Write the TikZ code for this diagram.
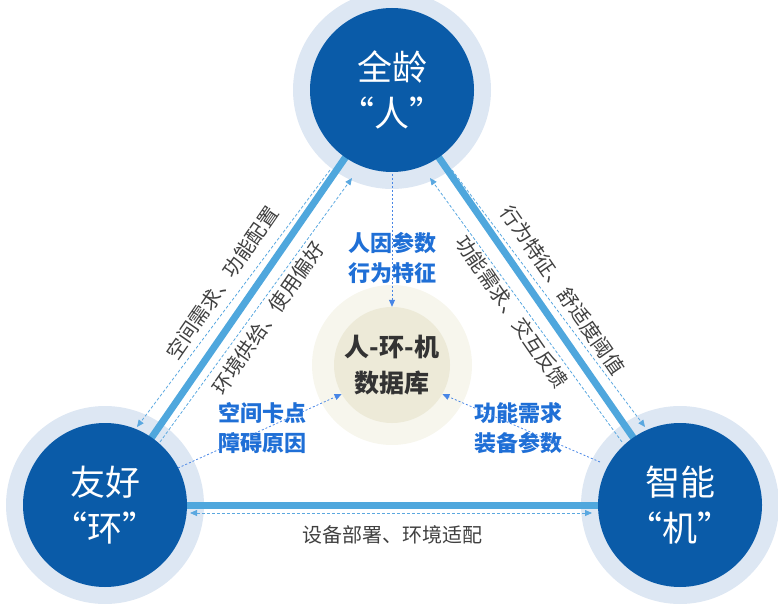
\documentclass[tikz,border=0pt]{standalone}
\usepackage{fontspec}
\setmainfont{Noto Sans CJK SC}
\usetikzlibrary{arrows.meta}
\definecolor{dblue}{HTML}{0A5BA8}
\definecolor{halo}{HTML}{DDE7F3}
\definecolor{lblue}{HTML}{4FA7DD}
\definecolor{dashc}{HTML}{5AA8E0}
\definecolor{tblue}{HTML}{1F6FD6}
\definecolor{chalo}{HTML}{F7F6ED}
\definecolor{cin}{HTML}{EDEAD8}
\tikzset{
 thick line/.style={lblue,line width=7pt},
 dline/.style={dashc,line width=0.8pt,dash pattern=on 3pt off 2pt},
 bigc/.style={circle,fill=dblue,minimum size=164pt,inner sep=0pt,text=white,font=\fontsize{35}{46}\selectfont,align=center},
 lab/.style={font=\fontsize{20}{24}\selectfont,text=black!75},
 blab/.style={font=\bfseries\fontsize{22}{30}\selectfont,text=tblue,align=center},
 blink/.style={dashc!80!blue,line width=0.8pt,dash pattern=on 2pt off 2pt,-{Triangle[length=7pt,width=6pt]}},
 tip/.style={-{Triangle[length=7pt,width=6pt]}}
}
\begin{document}
\begin{tikzpicture}[x=1pt,y=-1pt]
\useasboundingbox (0,0) rectangle (778,609);
\fill[halo] (392,90) circle (99);
\fill[halo] (105,505) circle (99);
\fill[halo] (680,505) circle (99);
\fill[chalo] (392,365) circle (80);
\fill[cin] (392,365) circle (58);
\coordinate (T) at (392,90);
\coordinate (L) at (105,505);
\coordinate (R) at (680,505);
\draw[thick line] (T) -- (L);
\draw[thick line] (T) -- (R);
\draw[thick line] (L) -- (R);
\coordinate (lo1) at (330,170); \coordinate (lo2) at (137,427);
\coordinate (li1) at (352,178); \coordinate (li2) at (160,442);
\coordinate (ri1) at (430,178); \coordinate (ri2) at (622,442);
\coordinate (ro1) at (452,170); \coordinate (ro2) at (645,427);
\coordinate (b1) at (190,513); \coordinate (b2) at (592,513);
\draw[dline,tip] (lo1) -- (lo2);
\draw[dline,tip] (li2) -- (li1);
\draw[dline,tip] (ri2) -- (ri1);
\draw[dline,tip] (ro1) -- (ro2);
\draw[dline,{Triangle[length=7pt,width=6pt]}-{Triangle[length=7pt,width=6pt]}] (b1) -- (b2);
\node[bigc] (top) at (T) {全龄\\“人”};
\node[bigc] (left) at (L) {友好\\“环”};
\node[bigc] (right) at (R) {智能\\“机”};
\node[circle,minimum size=116pt,inner sep=0pt,align=center,font=\bfseries\fontsize{25}{36}\selectfont,text=black!80] (db) at (392,365) {人-环-机\\数据库};
\node[blab] (p) at (392,258) {人因参数\\行为特征};
\node[blab] (e) at (262,428) {空间卡点\\障碍原因};
\node[blab] (m) at (518,428) {功能需求\\装备参数};
\coordinate (c1) at (392,174);
\draw[blink] (c1) -- (db.north);
\coordinate (c2) at (178,468);
\draw[blink] (c2) -- (db.210);
\coordinate (c3) at (600,462);
\draw[blink] (c3) -- (db.-30);
\node[lab,rotate=55.3] (t1) at (222,283) {空间需求、功能配置};
\node[lab,rotate=55.3] (t2) at (268,318) {环境供给、使用偏好};
\node[lab,rotate=-55.3] (t3) at (563,290) {行为特征、舒适度阈值};
\node[lab,rotate=-55.3] (t4) at (512,312) {功能需求、交互反馈};
\node[lab] (t5) at (392,535) {设备部署、环境适配};
\end{tikzpicture}
\end{document}
